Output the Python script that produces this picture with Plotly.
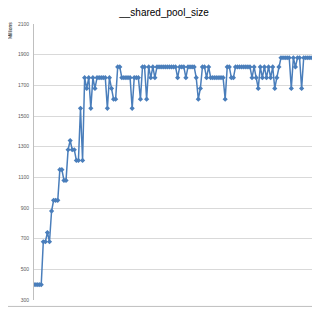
import plotly.graph_objects as go

title_text = "__shared_pool_size"
y_unit = "Millions"
y_ticks = [300, 500, 700, 900, 1100, 1300, 1500, 1700, 1900, 2100]

values = [
    400, 400, 400, 400,
    680, 680, 740, 680, 880, 950, 950, 950, 1150, 1150, 1080, 1080,
    1280, 1340, 1280, 1280, 1210, 1210, 1550, 1210,
    1750, 1680, 1750, 1550, 1750, 1680, 1750, 1750, 1750, 1750, 1750,
    1550, 1750, 1680, 1610, 1610, 1820, 1820, 1750, 1750, 1750, 1750, 1750,
    1550, 1750, 1750, 1750, 1610, 1820, 1820, 1610, 1820, 1750, 1820, 1750, 1820,
    1820, 1820, 1820, 1820, 1820, 1820, 1820, 1820, 1820,
    1750, 1820, 1820, 1820, 1750, 1820, 1820, 1820, 1820,
    1750, 1610, 1680, 1820, 1820, 1750, 1820,
    1750, 1750, 1750, 1750, 1750, 1750, 1750,
    1610, 1820, 1820, 1750, 1750,
    1820, 1820, 1820, 1820, 1820, 1820, 1820, 1820,
    1750, 1820, 1750, 1680, 1820, 1750, 1820, 1750, 1820, 1750, 1820,
    1680, 1750, 1820,
    1880, 1880, 1880, 1880, 1880, 1680, 1880, 1820, 1880, 1880, 1680,
    1880, 1880, 1880, 1880, 1880,
]
idx = list(range(len(values)))

# page body has an 8px margin; compensate so the plot lands where the reference has it
OFF = 8
W, H = 320 - OFF, 310 - OFF
L, R, T, B = 34 - OFF, 7, 24 - OFF, 7
pw, ph = W - L - R, H - T - B

fig = go.Figure()
fig.add_trace(go.Scatter(
    x=idx, y=values, mode="lines+markers",
    line=dict(color="#4a7ebb", width=1.5),
    marker=dict(symbol="diamond", size=4, color="#4a7ebb"),
    showlegend=False,
))

fig.update_layout(
    width=W, height=H,
    margin=dict(l=L, r=R, t=T, b=B),
    paper_bgcolor="white", plot_bgcolor="white",
    title=dict(text=title_text, x=0.5, xanchor="center", y=1 - (12 - OFF) / H, yanchor="middle",
               font=dict(family="Liberation Sans", size=10, color="#000000")),
    xaxis=dict(range=[-0.5, len(values) - 0.5], showticklabels=False, showgrid=False,
               zeroline=False, showline=False, ticks=""),
    yaxis=dict(range=[300, 2100], tickvals=y_ticks, showgrid=True, gridcolor="#d9d9d9",
               gridwidth=1, zeroline=False, showline=True, linecolor="#bfbfbf",
               tickfont=dict(family="Liberation Sans", size=5, color="#595959"),
               ticks="", ticklabelstandoff=3),
    shapes=[
        dict(type="line", xref="paper", yref="paper",
             x0=1 + (R - 0.5) / pw, x1=1 + (R - 0.5) / pw, y0=-(B - 0.5) / ph, y1=1 + T / ph,
             line=dict(color="#bfbfbf", width=1)),
        dict(type="line", xref="paper", yref="paper",
             x0=-L / pw, x1=1 + R / pw, y0=-(B - 0.5) / ph, y1=-(B - 0.5) / ph,
             line=dict(color="#bfbfbf", width=1)),
    ],
    annotations=[dict(text=y_unit, xref="paper", yref="paper", x=-(L - (10 - OFF)) / pw,
                      y=1 + (T - (30 - OFF)) / ph,
                      textangle=-90, showarrow=False, xanchor="center", yanchor="middle",
                      font=dict(family="Liberation Sans", size=5, color="#000000"))],
)

fig.write_html("out.html")
